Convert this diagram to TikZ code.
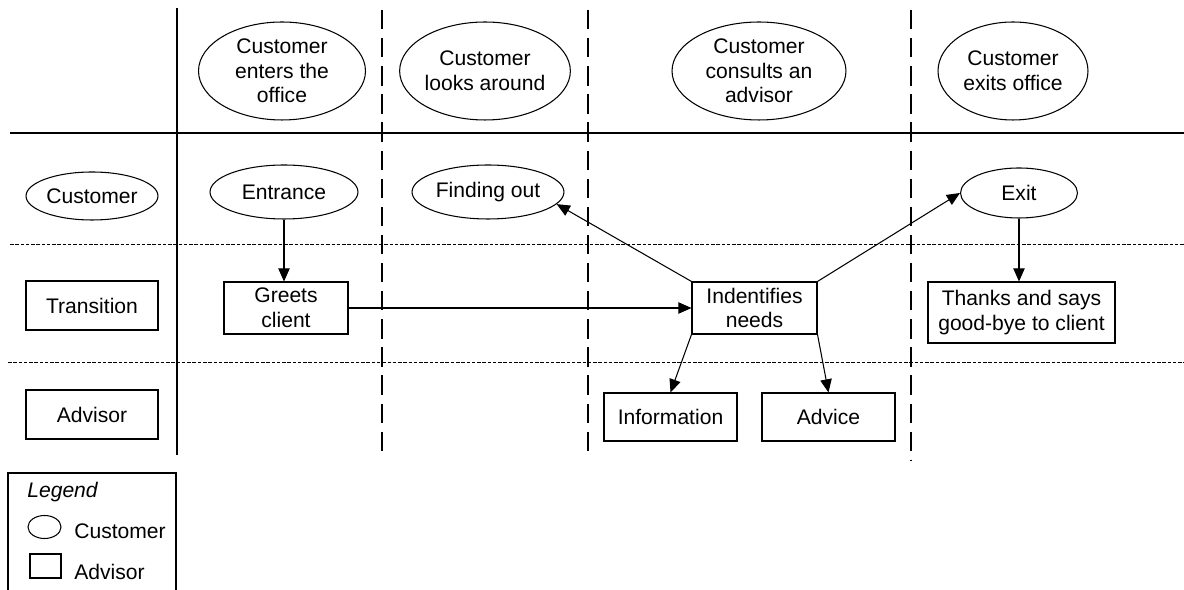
\documentclass[tikz,border=0pt]{standalone}
\usepackage{fontspec}
\setmainfont{Liberation Sans}
\usetikzlibrary{shapes.geometric,arrows.meta}

\tikzset{
  every node/.style={font=\fontsize{12}{14}\selectfont, align=center, inner sep=0pt},
  actor/.style={ellipse, draw, line width=0.6pt},
  task/.style={rectangle, draw, line width=0.6pt},
  flow/.style={-{Triangle[length=7.5pt,width=6.5pt]}, line width=0.6pt},
  phase/.style={dash pattern=on 11pt off 5pt, line width=0.6pt},
  lane/.style={dash pattern=on 2pt off 1pt, line width=0.5pt}
}

\begin{document}
\begin{tikzpicture}[x=0.02cm, y=-0.02cm]
\useasboundingbox (0,0) rectangle (1184,590);

% grid of the chart
\draw[line width=1.6pt] (177,8) -- (177,455);
\draw[line width=1.6pt] (10,133) -- (1184,133);
\foreach \xx/\yy in {382/455, 588/458, 911/460}
  \draw[phase] (\xx,10) -- (\xx,\yy);
\draw[lane] (10,244) -- (1184,244);
\draw[lane] (8,362) -- (1184,362);

% phases
\node[actor, minimum width=3.34cm, minimum height=1.96cm] (enter) at (282,71) {Customer\\enters the\\office};
\node[actor, minimum width=3.0cm, minimum height=1.96cm] (look) at (485,71) {Customer\\looks around};
\node[actor, minimum width=3.48cm, minimum height=1.96cm] (consult) at (759,71) {Customer\\consults an\\advisor};
\node[actor, minimum width=3.0cm, minimum height=1.96cm] (leave) at (1013,71) {Customer\\exits office};

% lanes
\node[actor, minimum width=2.64cm, minimum height=0.96cm] (custlane) at (92,196) {Customer};
\node[task, minimum width=2.64cm, minimum height=0.98cm] (translane) at (92,305.5) {Transition};
\node[task, minimum width=2.64cm, minimum height=0.98cm] (advlane) at (92,414.5) {Advisor};

% steps
\node[actor, minimum width=2.96cm, minimum height=1.08cm] (entrance) at (284,192) {Entrance};
\node[actor, minimum width=3.04cm, minimum height=1.08cm] (findout) at (488,192) {Finding out};
\node[actor, minimum width=2.34cm, minimum height=1.0cm] (exitnode) at (1019,193) {Exit};
\node[task, minimum width=2.48cm, minimum height=1.04cm] (greets) at (286,308) {Greets\\client};
\node[task, minimum width=2.5cm, minimum height=1.04cm] (needs) at (754.5,308) {Indentifies\\needs};
\node[task, minimum width=3.74cm, minimum height=1.22cm] (thanks) at (1021.5,312.5) {Thanks and says\\good-bye to client};
\node[task, minimum width=2.66cm, minimum height=0.96cm] (info) at (670.5,417) {Information};
\node[task, minimum width=2.66cm, minimum height=0.96cm] (advice) at (828.5,417) {Advice};

% arrows
\draw[flow] (entrance.south) -- (entrance.south |- greets.north);
\draw[flow] (greets.east) -- (needs.west);
\draw[flow] (needs.north west) -- (findout.-10);
\draw[flow] (needs.north east) -- (exitnode.west);
\draw[flow] (needs.south west) -- (info.north);
\draw[flow] (needs.south east) -- (advice.north);
\draw[flow] (exitnode.south) -- (exitnode.south |- thanks.north);

% legend
\draw[line width=0.6pt] (8,590) -- (8,473) -- (176,473) -- (176,590);
\node[anchor=west, font=\fontsize{12}{14}\selectfont\itshape] (legtitle) at (27,492) {Legend};
\node[actor, minimum width=0.66cm, minimum height=0.46cm] (legell) at (44.5,527) {};
\node[anchor=west] (legcust) at (74,531) {Customer};
\node[task, minimum width=0.62cm, minimum height=0.48cm] (legbox) at (45.5,566) {};
\node[anchor=west] (legadv) at (74,572) {Advisor};
\end{tikzpicture}
\end{document}
